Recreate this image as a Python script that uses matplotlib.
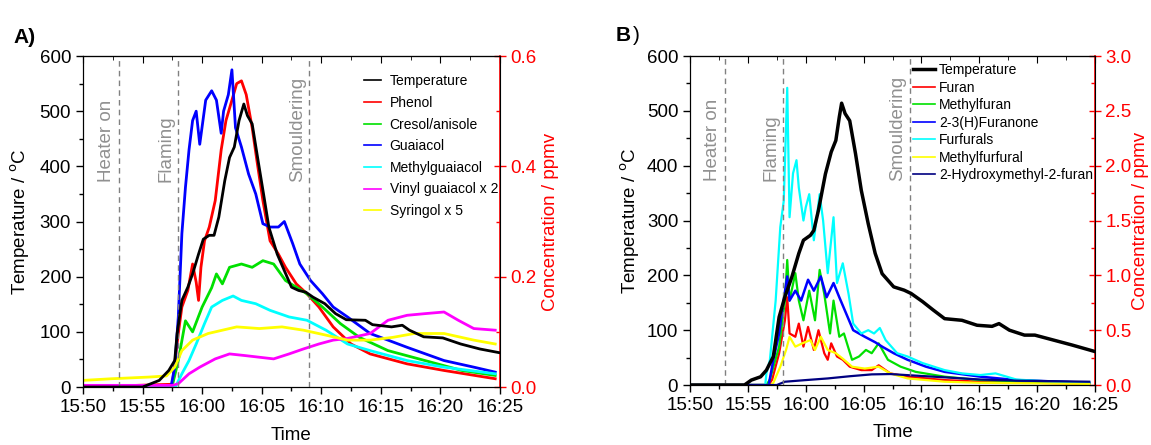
import matplotlib
matplotlib.use('Agg')
import matplotlib.pyplot as plt
from matplotlib.ticker import MultipleLocator, FixedLocator

plt.rcParams['font.family'] = ['Liberation Sans', 'DejaVu Sans']

# time axis, minutes after 15:50
tick_minutes = [0, 5, 10, 15, 20, 25, 30, 35]
tick_labels = ['15:50', '15:55', '16:00', '16:05', '16:10', '16:15', '16:20', '16:25']
event_minutes = [3, 8, 19]
event_labels = ['Heater on', 'Flaming', 'Smouldering']

# ---------------------------------------------------------------- panel A
temp_a_t = [0, 5.0, 6.4, 7.2, 7.7, 7.9, 8.3, 8.8, 9.2, 9.7, 10.1, 10.6, 11.0, 11.4, 11.9,
            12.3, 12.7, 13.1, 13.5, 13.8, 14.2, 14.7, 15.2, 15.6, 16.3, 16.9, 17.5, 18.1,
            18.7, 19.3, 20.3, 21.2, 22.1, 23.7, 24.3, 25.9, 26.8, 27.4, 28.6, 30.2, 31.7,
            33.3, 35.0]
temp_a = [0, 0, 12, 30, 48, 97, 157, 181, 205, 241, 268, 275, 275, 308, 374,
          416, 435, 483, 513, 492, 477, 410, 344, 290, 241, 211, 181, 175,
          172, 163, 151, 133, 122, 121, 113, 109, 112, 103, 91, 89, 78,
          69, 62]

phenol_t = [0, 7.5, 8.0, 8.3, 8.8, 9.2, 9.5, 9.7, 9.9, 10.2, 10.6, 11.1, 11.6, 12.0, 12.5,
            12.9, 13.3, 13.7, 14.2, 14.6, 15.1, 15.7, 16.4, 17.0, 17.9, 18.8, 19.8, 21.0,
            22.5, 24.1, 27.2, 30.3, 34.6]
phenol = [0.0, 0.005, 0.097, 0.145, 0.175, 0.223, 0.19, 0.157, 0.217, 0.265, 0.29, 0.338,
          0.43, 0.483, 0.52, 0.55, 0.555, 0.53, 0.47, 0.41, 0.338, 0.265, 0.241, 0.217,
          0.187, 0.169, 0.145, 0.109, 0.078, 0.06, 0.042, 0.03, 0.015]

cresol_t = [0, 7.5, 8.0, 8.6, 9.2, 10.0, 10.8, 11.2, 11.7, 12.3, 13.3, 14.2, 15.1, 16.0,
            17.0, 17.9, 18.8, 20.1, 21.6, 23.2, 25.6, 28.7, 31.8, 34.6]
cresol = [0.0, 0.003, 0.048, 0.12, 0.10, 0.145, 0.18, 0.205, 0.187, 0.217, 0.223, 0.217,
          0.229, 0.223, 0.193, 0.181, 0.169, 0.145, 0.115, 0.09, 0.066, 0.048, 0.03, 0.021]

guaiacol_t = [0, 7.4, 7.7, 8.0, 8.3, 8.6, 8.9, 9.2, 9.5, 9.8, 10.3, 10.8, 11.2, 11.6, 11.8,
              12.2, 12.5, 12.8, 13.3, 13.9, 14.5, 15.1, 15.7, 16.4, 16.9, 17.6, 18.2,
              19.1, 20.1, 21.0, 22.2, 24.1, 25.6, 27.2, 30.3, 32.8, 34.6]
guaiacol = [0.0, 0.002, 0.036, 0.127, 0.278, 0.362, 0.43, 0.483, 0.50, 0.44, 0.52, 0.537,
            0.52, 0.46, 0.50, 0.53, 0.575, 0.47, 0.435, 0.386, 0.35, 0.296, 0.29, 0.29, 0.30,
            0.26, 0.223, 0.193, 0.169, 0.145, 0.127, 0.097, 0.085, 0.072, 0.048, 0.036, 0.027]

mguaiacol_t = [0, 7.8, 8.3, 8.9, 9.5, 10.2, 10.8, 11.7, 12.6, 13.3, 14.5, 15.7, 17.3,
               18.8, 20.4, 22.2, 24.1, 27.2, 30.3, 34.6]
mguaiacol = [0.0, 0.002, 0.024, 0.048, 0.078, 0.115, 0.145, 0.157, 0.165, 0.157, 0.151,
             0.139, 0.127, 0.121, 0.103, 0.078, 0.066, 0.048, 0.036, 0.024]

vinyl_t = [0, 7.5, 8.0, 8.9, 9.8, 11.1, 12.3, 13.6, 14.8, 16.0, 17.3, 18.5, 19.8, 21.0,
           22.2, 24.1, 25.6, 27.2, 28.7, 30.3, 31.5, 32.8, 34.6]
vinyl = [0.003, 0.003, 0.006, 0.024, 0.036, 0.051, 0.06, 0.057, 0.054, 0.051, 0.06, 0.069,
         0.078, 0.085, 0.088, 0.097, 0.121, 0.13, 0.133, 0.136, 0.121, 0.106, 0.103]

syringol_t = [0, 2.4, 5.5, 7.0, 7.7, 8.3, 9.2, 10.5, 11.7, 12.9, 14.8, 16.7, 18.5, 20.4,
              22.2, 24.1, 26.0, 27.8, 30.3, 32.8, 34.6]
syringol = [0.012, 0.015, 0.018, 0.02, 0.036, 0.066, 0.085, 0.097, 0.103, 0.109, 0.106,
            0.109, 0.103, 0.094, 0.085, 0.085, 0.09, 0.097, 0.097, 0.085, 0.078]

# ---------------------------------------------------------------- panel B
temp_b_t = [0, 4.7, 5.3, 6.1, 6.6, 7.2, 7.7, 8.2, 8.8, 9.4, 9.8, 10.4, 10.7, 11.1, 11.7,
            12.2, 12.6, 12.9, 13.1, 13.4, 13.8, 14.3, 14.8, 15.4, 16.0, 16.6, 17.6, 18.5,
            19.1, 20.1, 21.0, 22.0, 23.5, 24.8, 26.1, 26.7, 27.6, 28.9, 29.8, 31.4, 33.0,
            35.0]
temp_b = [0, 0, 9, 15, 27, 52, 124, 161, 197, 240, 264, 273, 282, 319, 385,
          425, 446, 489, 514, 495, 482, 422, 355, 294, 240, 203, 179, 173,
          167, 152, 137, 121, 118, 109, 107, 112, 100, 91, 91, 82, 73,
          61]

furan_t = [0, 6.8, 7.1, 7.7, 8.2, 8.4, 8.6, 9.1, 9.4, 9.8, 10.2, 10.7, 11.1, 11.6, 11.9,
           12.2, 12.7, 13.2, 13.8, 14.8, 15.7, 16.3, 17.3, 18.8, 22.0, 25.1, 34.5]
furan = [0.0, 0.0, 0.05, 0.29, 0.59, 0.80, 0.47, 0.44, 0.56, 0.35, 0.53, 0.32, 0.50, 0.29,
         0.23, 0.38, 0.26, 0.23, 0.167, 0.136, 0.136, 0.18, 0.106, 0.076, 0.045, 0.03, 0.01]

mfuran_t = [0, 6.6, 6.9, 7.7, 8.2, 8.4, 8.6, 9.1, 9.4, 9.8, 10.3, 10.8, 11.2, 11.6, 12.1,
            12.4, 12.9, 13.3, 14.0, 14.6, 15.2, 15.7, 16.3, 17.1, 18.2, 19.5, 22.0, 25.1,
            34.5]
mfuran = [0.0, 0.0, 0.05, 0.35, 0.77, 1.14, 0.77, 1.02, 0.77, 0.59, 0.86, 0.59, 1.05, 0.83,
          0.47, 0.77, 0.44, 0.47, 0.23, 0.26, 0.32, 0.29, 0.38, 0.23, 0.167, 0.12, 0.076,
          0.045, 0.015]

furanone_t = [0, 6.8, 7.2, 7.7, 8.0, 8.4, 8.6, 9.1, 9.6, 10.2, 10.7, 11.3, 11.8, 12.4,
              12.9, 13.5, 14.1, 15.1, 16.0, 16.6, 17.6, 18.8, 20.4, 22.0, 25.1, 28.2, 34.5]
furanone = [0.0, 0.0, 0.23, 0.47, 0.71, 0.99, 0.77, 0.86, 0.77, 0.96, 0.86, 0.99, 0.80,
            0.93, 0.80, 0.65, 0.50, 0.44, 0.39, 0.35, 0.29, 0.23, 0.167, 0.12, 0.076,
            0.045, 0.02]

furfurals_t = [0, 6.5, 6.6, 6.9, 7.4, 7.8, 8.1, 8.4, 8.6, 8.9, 9.2, 9.4, 9.8, 10.0, 10.3,
               10.7, 11.2, 11.5, 11.9, 12.4, 12.7, 13.2, 13.7, 14.1, 14.8, 15.4, 15.9,
               16.4, 16.9, 17.9, 18.8, 20.1, 22.0, 23.5, 25.1, 26.4, 28.2, 31.4, 34.5]
furfurals = [0.0, 0.0, 0.106, 0.227, 0.77, 1.44, 1.68, 2.71, 1.53, 1.93, 2.05, 1.80, 1.50,
             1.62, 1.74, 1.32, 1.74, 1.50, 1.02, 1.53, 0.93, 1.11, 0.83, 0.56, 0.47, 0.50,
             0.47, 0.52, 0.41, 0.29, 0.26, 0.20, 0.136, 0.106, 0.091, 0.106, 0.05, 0.03,
             0.02]

mfurfural_t = [0, 7.0, 7.2, 7.8, 8.3, 8.6, 9.1, 9.7, 10.4, 10.8, 11.3, 11.9, 12.6, 13.2,
               14.0, 15.1, 16.3, 17.3, 18.8, 22.0, 25.1, 34.5]
mfurfural = [0.0, 0.0, 0.02, 0.167, 0.32, 0.44, 0.35, 0.38, 0.41, 0.32, 0.44, 0.32, 0.29,
             0.24, 0.167, 0.15, 0.167, 0.106, 0.06, 0.03, 0.02, 0.01]

hmfuran_t = [0, 7.5, 8.2, 10.0, 11.9, 13.8, 15.7, 17.3, 18.8, 22.0, 25.1, 28.2, 34.5]
hmfuran = [0.0, 0.0, 0.03, 0.045, 0.06, 0.08, 0.097, 0.10, 0.09, 0.07, 0.05, 0.04, 0.03]

FS = 13.5


def style_axes(ax, ax2, conc_max, conc_major, conc_minor):
    ax.set_xlim(0, 35)
    ax.set_ylim(0, 600)
    ax2.set_ylim(0, conc_max)
    ax.xaxis.set_major_locator(FixedLocator(tick_minutes))
    ax.set_xticklabels(tick_labels)
    ax.xaxis.set_minor_locator(MultipleLocator(2.5))
    ax.yaxis.set_major_locator(MultipleLocator(100))
    ax.yaxis.set_minor_locator(MultipleLocator(50))
    ax.tick_params(which='major', direction='out', length=5, width=1, labelsize=FS)
    ax.tick_params(which='minor', direction='out', length=3, width=1)
    top = ax.secondary_xaxis('top')
    top.xaxis.set_major_locator(FixedLocator(tick_minutes))
    top.xaxis.set_minor_locator(MultipleLocator(2.5))
    top.tick_params(which='major', direction='in', length=5, labeltop=False)
    top.tick_params(which='minor', direction='in', length=3)
    ax2.yaxis.set_major_locator(MultipleLocator(conc_major))
    ax2.yaxis.set_minor_locator(MultipleLocator(conc_minor))
    ax2.tick_params(which='major', direction='inout', length=8, width=1, colors='red',
                    labelsize=FS)
    ax2.tick_params(which='minor', direction='in', length=3, width=1, colors='red')
    ax2.spines['right'].set_color('red')
    ax2.spines['right'].set_linewidth(1.2)
    ax.set_zorder(ax2.get_zorder() + 1)
    ax.patch.set_visible(False)
    for m, lab in zip(event_minutes, event_labels):
        ax.axvline(m, color='#808080', lw=1, ls=(0, (4, 3)), zorder=0)
        ax.text(m - 0.3, 372, lab, rotation=90, ha='right', va='bottom',
                color='#909090', fontsize=FS)
    ax.set_xlabel('Time', fontsize=FS)
    ax.xaxis.set_label_coords(0.5, -0.12)
    ax.set_ylabel('Temperature / $\\mathrm{^{o}}$C', fontsize=FS)
    ax.yaxis.label.set_va('center')
    ax2.set_ylabel('Concentration / ppmv', fontsize=FS, color='red')
    ax2.yaxis.label.set_va('center')


fig = plt.figure(figsize=(11.51, 4.45), dpi=100)

# panel A
axA = fig.add_axes([0.0721, 0.1303, 0.3623, 0.7438])
axA2 = axA.twinx()
lw_n = 2.0
h_temp, = axA.plot(temp_a_t, temp_a, color='black', lw=2, label='Temperature')
hA = [h_temp]
hA += axA2.plot(phenol_t, phenol, color='#ff0000', lw=lw_n, label='Phenol')
hA += axA2.plot(cresol_t, cresol, color='#00e000', lw=lw_n, label='Cresol/anisole')
hA += axA2.plot(guaiacol_t, guaiacol, color='#0000ff', lw=lw_n, label='Guaiacol')
hA += axA2.plot(mguaiacol_t, mguaiacol, color='#00ffff', lw=lw_n, label='Methylguaiacol')
hA += axA2.plot(vinyl_t, vinyl, color='#ff00ff', lw=lw_n, label='Vinyl guaiacol x 2')
hA += axA2.plot(syringol_t, syringol, color='#ffff00', lw=lw_n, label='Syringol x 5')
style_axes(axA, axA2, 0.6, 0.2, 0.1)
axA.yaxis.set_label_coords(-0.151, 0.5)
axA2.yaxis.set_label_coords(1.12, 0.5)
legA = axA.legend(handles=hA, loc='upper left', bbox_to_anchor=(0.674, 0.945),
                  frameon=False, fontsize=10, handlelength=1.2, handletextpad=0.65,
                  labelspacing=0.55, borderpad=0, borderaxespad=0)
for line in legA.get_lines():
    line.set_linewidth(1.2)

# panel B
axB = fig.add_axes([0.5995, 0.1348, 0.3519, 0.7393])
axB2 = axB.twinx()
h_temp_b, = axB.plot(temp_b_t, temp_b, color='black', lw=2.5, label='Temperature')
hB = [h_temp_b]
hB += axB2.plot(furan_t, furan, color='#ff0000', lw=1.6, label='Furan')
hB += axB2.plot(mfuran_t, mfuran, color='#00e000', lw=1.6, label='Methylfuran')
hB += axB2.plot(furanone_t, furanone, color='#0000ff', lw=1.8, label='2-3(H)Furanone')
hB += axB2.plot(furfurals_t, furfurals, color='#00ffff', lw=1.6, label='Furfurals')
hB += axB2.plot(mfurfural_t, mfurfural, color='#ffff00', lw=1.6, label='Methylfurfural')
hB += axB2.plot(hmfuran_t, hmfuran, color='#000080', lw=1.6, label='2-Hydroxymethyl-2-furan')
style_axes(axB, axB2, 3.0, 0.5, 0.25)
axB.yaxis.set_label_coords(-0.148, 0.5)
axB2.yaxis.set_label_coords(1.111, 0.5)
legB = axB.legend(handles=hB, loc='upper left', bbox_to_anchor=(0.55, 0.978),
                  frameon=False, fontsize=10, handlelength=1.6, handletextpad=0.3,
                  labelspacing=0.25, borderpad=0, borderaxespad=0)
for line in legB.get_lines()[1:]:
    line.set_linewidth(1.2)

fig.text(13 / 1151, 1 - 43 / 445, 'A)', fontsize=15, fontweight='bold', va='baseline')
fig.text(616 / 1151, 1 - 41 / 445, 'B', fontsize=15, fontweight='bold', va='baseline')
fig.text(633 / 1151, 1 - 41 / 445, ')', fontsize=15, va='baseline')

fig.savefig('out.png', dpi=100)
